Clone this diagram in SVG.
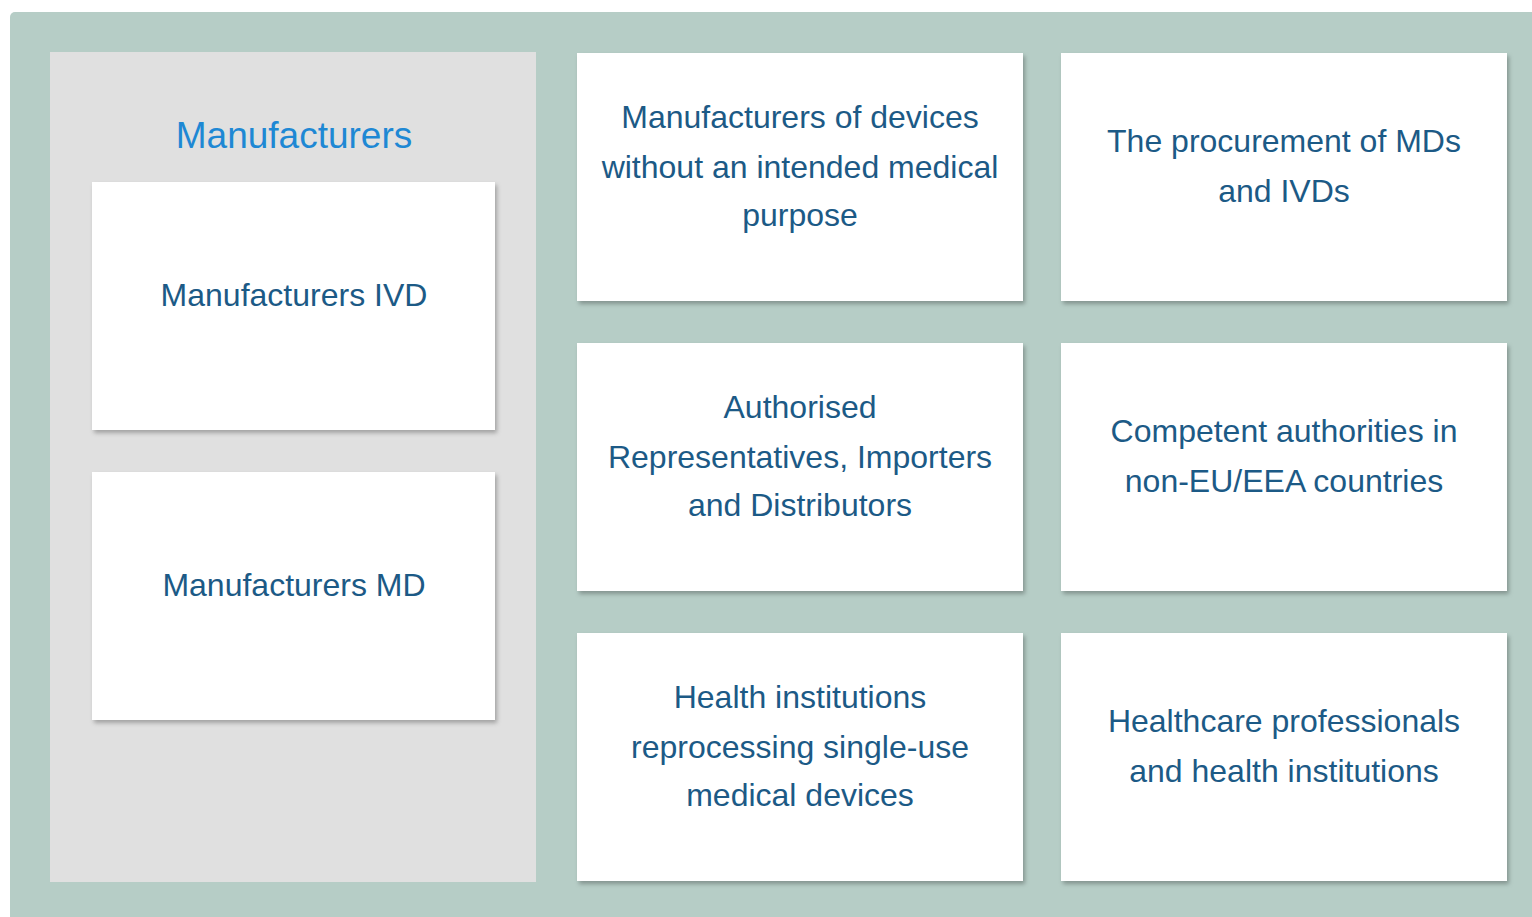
<svg xmlns="http://www.w3.org/2000/svg" width="1532" height="917" viewBox="0 0 1532 917">
  <defs>
    <filter id="sh" x="-5%" y="-5%" width="112%" height="112%">
      <feDropShadow dx="2" dy="3" stdDeviation="2" flood-color="#000" flood-opacity="0.28"/>
    </filter>
    <style>
      .box { fill: #ffffff; filter: url(#sh); }
      .t { font-family: "Liberation Sans", Arial, sans-serif; font-size: 32px; fill: #1c5a86; text-anchor: middle; }
      .title { font-family: "Liberation Sans", Arial, sans-serif; font-size: 37px; fill: #1e88d4; text-anchor: middle; }
    </style>
  </defs>
  <rect x="0" y="0" width="1532" height="917" fill="#ffffff"/>
  <rect x="10" y="12" width="1540" height="930" rx="5" fill="#b6cdc6"/>
  <g id="manufacturers">
    <rect x="50" y="52" width="486" height="830" fill="#e0e0e0"/>
    <text class="title" x="294" y="148">Manufacturers</text>
  </g>
  <g id="manufacturers-ivd">
    <rect class="box" x="92" y="182" width="403" height="248"/>
    <text class="t" x="294" y="306">Manufacturers IVD</text>
  </g>
  <g id="manufacturers-md">
    <rect class="box" x="92" y="472" width="403" height="248"/>
    <text class="t" x="294" y="596">Manufacturers MD</text>
  </g>
  <g id="no-medical-purpose">
    <rect class="box" x="577" y="53" width="446" height="248"/>
    <text class="t" x="800" y="128">Manufacturers of devices</text>
    <text class="t" x="800" y="178">without an intended medical</text>
    <text class="t" x="800" y="226">purpose</text>
  </g>
  <g id="procurement">
    <rect class="box" x="1061" y="53" width="446" height="248"/>
    <text class="t" x="1284" y="152">The procurement of MDs</text>
    <text class="t" x="1284" y="202">and IVDs</text>
  </g>
  <g id="authorised-reps">
    <rect class="box" x="577" y="343" width="446" height="248"/>
    <text class="t" x="800" y="418">Authorised</text>
    <text class="t" x="800" y="468">Representatives, Importers</text>
    <text class="t" x="800" y="516">and Distributors</text>
  </g>
  <g id="competent-authorities">
    <rect class="box" x="1061" y="343" width="446" height="248"/>
    <text class="t" x="1284" y="442">Competent authorities in</text>
    <text class="t" x="1284" y="492">non-EU/EEA countries</text>
  </g>
  <g id="health-institutions-reprocessing">
    <rect class="box" x="577" y="633" width="446" height="248"/>
    <text class="t" x="800" y="708">Health institutions</text>
    <text class="t" x="800" y="758">reprocessing single-use</text>
    <text class="t" x="800" y="806">medical devices</text>
  </g>
  <g id="healthcare-professionals">
    <rect class="box" x="1061" y="633" width="446" height="248"/>
    <text class="t" x="1284" y="732">Healthcare professionals</text>
    <text class="t" x="1284" y="782">and health institutions</text>
  </g>
  <g id="connectors"></g>
</svg>
